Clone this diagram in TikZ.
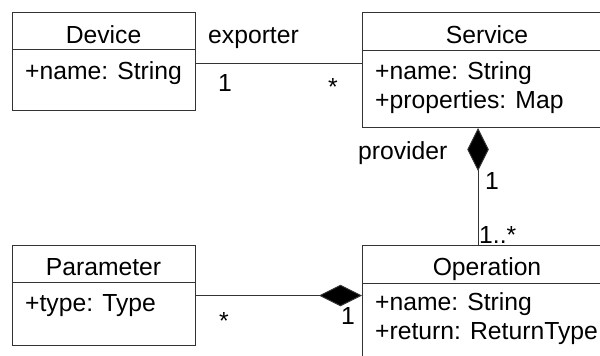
\documentclass[tikz,border=0pt]{standalone}
\usepackage{fontspec}
\setmainfont{Liberation Sans}
\usetikzlibrary{arrows.meta}
\begin{document}
\begin{tikzpicture}[x=1pt,y=-1pt,
  font=\fontsize{24.7}{29}\selectfont,
  umlclass/.style={draw=black!80, line width=1pt, anchor=north west, inner sep=0pt},
  txt/.style={inner sep=0pt, text=black},
  assoc/.style={draw=black!80, line width=1pt},
  compose/.style={assoc, -{Turned Square[length=43pt, width=21.5pt, fill=black]}},
]
\useasboundingbox (0,0) rectangle (600,356);
\clip (0,0) rectangle (600,356);

% class boxes
\node[umlclass, minimum width=183pt, minimum height=98pt]  (device)    at (12,12)  {};
\node[umlclass, minimum width=250pt, minimum height=115pt] (service)   at (362,12) {};
\node[umlclass, minimum width=183pt, minimum height=100pt] (parameter) at (12,245) {};
\node[umlclass, minimum width=250pt, minimum height=130pt] (operation) at (362,245) {};

% compartment separators
\draw[assoc] (device.west |- 0,49) -- (device.east |- 0,49);
\draw[assoc] (service.west |- 0,50) -- (service.east |- 0,50);
\draw[assoc] (parameter.west |- 0,282) -- (parameter.east |- 0,282);
\draw[assoc] (operation.west |- 0,283) -- (operation.east |- 0,283);

% class names and attributes
\node[txt, anchor=base] (devTitle) at (103.5,43) {Device};
\node[txt, anchor=base west] (devName) at (25,79) {+name: String};
\node[txt, anchor=base] (svcTitle) at (487,43) {Service};
\node[txt, anchor=base west] (svcName) at (375,79) {+name: String};
\node[txt, anchor=base west] (svcProps) at (375,108) {+properties: Map};
\node[txt, anchor=base] (parTitle) at (103.5,275) {Parameter};
\node[txt, anchor=base west] (parType) at (25,311) {+type: Type};
\node[txt, anchor=base] (opTitle) at (487,275) {Operation};
\node[txt, anchor=base west] (opName) at (375,310) {+name: String};
\node[txt, anchor=base west] (opReturn) at (375,339) {+return: ReturnType};

% associations
\draw[assoc] (device.east |- 0,63) -- (service.west |- 0,63);
\draw[compose] (operation.north -| 478,0) -- (service.south -| 478,0);
\draw[compose] (parameter.east) -- (operation.west |- parameter.east);

% roles and multiplicities
\node[txt, anchor=base west] (exporterLbl) at (208,43) {exporter};
\node[txt, anchor=base] (devMult) at (225,91) {1};
\node[txt, anchor=base] (svcMult) at (333,95) {*};
\node[txt, anchor=base west] (providerLbl) at (358,159) {provider};
\node[txt, anchor=base west] (provMult) at (485,189) {1};
\node[txt, anchor=base west] (opMult) at (479,243) {1..*};
\node[txt, anchor=base] (parMult) at (224,329) {*};
\node[txt, anchor=base east] (opParMult) at (355,324) {1};
\end{tikzpicture}
\end{document}
